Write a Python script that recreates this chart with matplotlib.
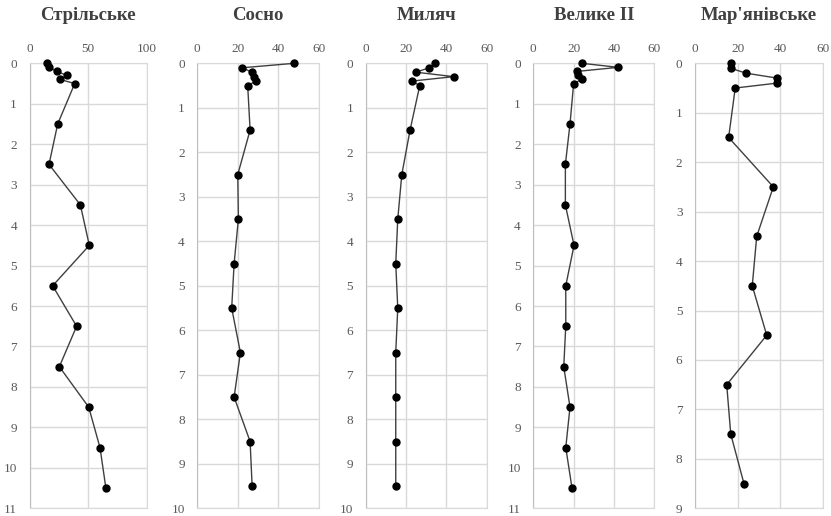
import matplotlib
matplotlib.use('Agg')
import matplotlib.pyplot as plt

plt.rcParams['font.family'] = ['Liberation Serif', 'DejaVu Serif']

titles = ['Стрільське', 'Сосно', 'Миляч', 'Велике II', "Мар'янівське"]

# глибини (м) та значення для кожного розрізу
depth_top = [0, 0.1, 0.2, 0.3, 0.4, 0.5]

strilske_depth = depth_top + [1.5, 2.5, 3.5, 4.5, 5.5, 6.5, 7.5, 8.5, 9.5, 10.5]
strilske_vals = [14.6, 16.9, 23, 32, 26, 38.5, 24, 16.6, 43.3, 50.9, 19.7, 40.1, 25.4, 50.4, 60, 65]

sosno_depth = depth_top + [1.5, 2.5, 3.5, 4.5, 5.5, 6.5, 7.5, 8.5, 9.5]
sosno_vals = [48, 22.3, 26.9, 27.8, 29, 24.9, 26.1, 20, 20.3, 18.2, 17, 21.3, 18.2, 26.1, 27.1]

myliach_depth = depth_top + [1.5, 2.5, 3.5, 4.5, 5.5, 6.5, 7.5, 8.5, 9.5]
myliach_vals = [34.2, 31.5, 24.9, 43.6, 22.8, 26.8, 22, 17.9, 15.9, 14.9, 15.9, 14.9, 14.9, 14.9, 14.9]

velyke_depth = depth_top + [1.5, 2.5, 3.5, 4.5, 5.5, 6.5, 7.5, 8.5, 9.5, 10.5]
velyke_vals = [24.1, 42.1, 21.8, 22.3, 24, 20, 18.2, 15.9, 15.9, 20.2, 16.1, 16.1, 15.1, 18.2, 16.1, 19.2]

marianivske_depth = depth_top + [1.5, 2.5, 3.5, 4.5, 5.5, 6.5, 7.5, 8.5]
marianivske_vals = [16.8, 16.8, 24, 38.7, 38.7, 18.9, 15.8, 36.8, 29, 26.9, 33.7, 14.9, 16.8, 23]

depths = [strilske_depth, sosno_depth, myliach_depth, velyke_depth, marianivske_depth]
values = [strilske_vals, sosno_vals, myliach_vals, velyke_vals, marianivske_vals]
x_max = [100, 60, 60, 60, 60]
x_step = [50, 20, 20, 20, 20]
y_max = [11, 10, 10, 11, 9]

# положення панелей у пікселях (ліво, право)
W, H = 831, 516
panels_px = [(29.5, 147), (197.3, 318.7), (365.7, 486.7), (533.3, 654.3), (695, 822.7)]
top_px, bottom_px = 63.3, 508.3

fig = plt.figure(figsize=(W / 100, H / 100), dpi=100)

for i, (l, r) in enumerate(panels_px):
    ax = fig.add_axes([l / W, 1 - bottom_px / H, (r - l) / W, (bottom_px - top_px) / H])
    ax.plot(values[i], depths[i], color='#3f3f3f', lw=1.0, marker='o',
            markersize=5, markerfacecolor='black', markeredgecolor='black',
            zorder=3, clip_on=False)
    ax.set_xlim(0, x_max[i])
    ax.set_ylim(y_max[i], 0)
    ax.set_xticks(range(0, x_max[i] + 1, x_step[i]))
    ax.set_yticks(range(0, y_max[i] + 1))
    ax.xaxis.tick_top()
    ax.tick_params(length=0, labelsize=9.5, colors='#595959', pad=6)
    ax.tick_params(axis='y', pad=9)
    ax.grid(True, color='#d9d9d9', lw=1.0)
    ax.set_axisbelow(True)
    for s in ax.spines.values():
        s.set_color('#d9d9d9')
    ax.spines['left'].set_color('#bfbfbf')
    fig.text((l + r) / 2 / W, 1 - 15 / H, titles[i], ha='center', va='center',
             fontsize=13.5, fontweight='bold', color='#404040')

fig.savefig('out.png', dpi=100)
